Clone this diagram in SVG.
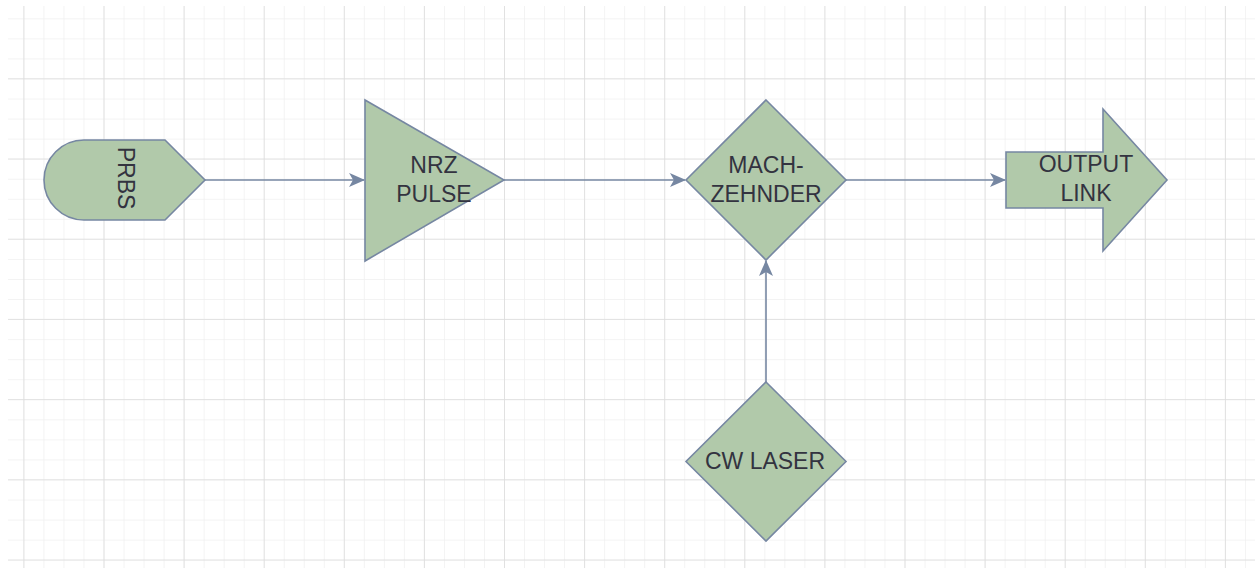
<svg xmlns="http://www.w3.org/2000/svg" width="1255" height="568" viewBox="0 0 1255 568">
<defs>
<style>
.minor{stroke:#f0f0f0;stroke-width:1.5;fill:none}
.major{stroke:#dcdcdc;stroke-width:1.5;fill:none}
.node{fill:#b1c9aa;stroke:#7687a2;stroke-width:1.6}
.edge{stroke:#7687a2;stroke-width:1.6;fill:none}
.lbl{font-family:"Liberation Sans",Arial,sans-serif;font-size:23px;fill:#333340;text-anchor:middle}
</style>
<pattern id="gMinor" x="3.4" y="-1.7" width="20.025" height="20.05" patternUnits="userSpaceOnUse">
<path d="M0 0 H20.05 M0 0 V20.05" class="minor"/>
</pattern>
<pattern id="gMajor" x="23.4" y="78.3" width="80.1" height="80.2" patternUnits="userSpaceOnUse">
<path d="M0 0 H80.1 M0 0 V80.2" class="major"/>
</pattern>
<marker id="arr" viewBox="0 0 16 14" refX="15" refY="7" markerWidth="16" markerHeight="14" markerUnits="userSpaceOnUse" orient="auto">
<path d="M0 0 L16 7 L0 14 L4 7 Z" fill="#7687a2"/>
</marker>
</defs>
<rect width="1255" height="568" fill="#ffffff"/>
<g id="grid">
<rect x="8" y="6" width="1247" height="562" fill="url(#gMinor)"/>
<rect x="8" y="6" width="1247" height="562" fill="url(#gMajor)"/>
</g>
<g id="connectors">
<path class="edge" d="M205 180 H364" marker-end="url(#arr)"/>
<path class="edge" d="M504 180 H685" marker-end="url(#arr)"/>
<path class="edge" d="M846 180 H1005" marker-end="url(#arr)"/>
<path class="edge" d="M766 382 V261" marker-end="url(#arr)"/>
</g>
<g id="prbs">
<path class="node" d="M84 140 H165 L205 180 L165 220 H84 A40 40 0 0 1 44 180 A40 40 0 0 1 84 140 Z"/>
<text class="lbl" transform="translate(118 178) rotate(90)">PRBS</text>
</g>
<g id="nrz">
<path class="node" d="M365 100 L504 180 L365 261 Z"/>
<text class="lbl" x="434" y="173">NRZ</text>
<text class="lbl" x="434" y="202">PULSE</text>
</g>
<g id="mach">
<path class="node" d="M766 100 L846 180 L766 260 L686 180 Z"/>
<text class="lbl" x="766" y="173">MACH-</text>
<text class="lbl" x="766" y="202">ZEHNDER</text>
</g>
<g id="output">
<path class="node" d="M1006 152 H1103 V109 L1167 180 L1103 251 V208 H1006 Z"/>
<text class="lbl" x="1086" y="172">OUTPUT</text>
<text class="lbl" x="1086" y="201">LINK</text>
</g>
<g id="laser">
<path class="node" d="M766 382 L846 461.5 L766 541 L686 461.5 Z"/>
<text class="lbl" x="765" y="469">CW LASER</text>
</g>
</svg>
